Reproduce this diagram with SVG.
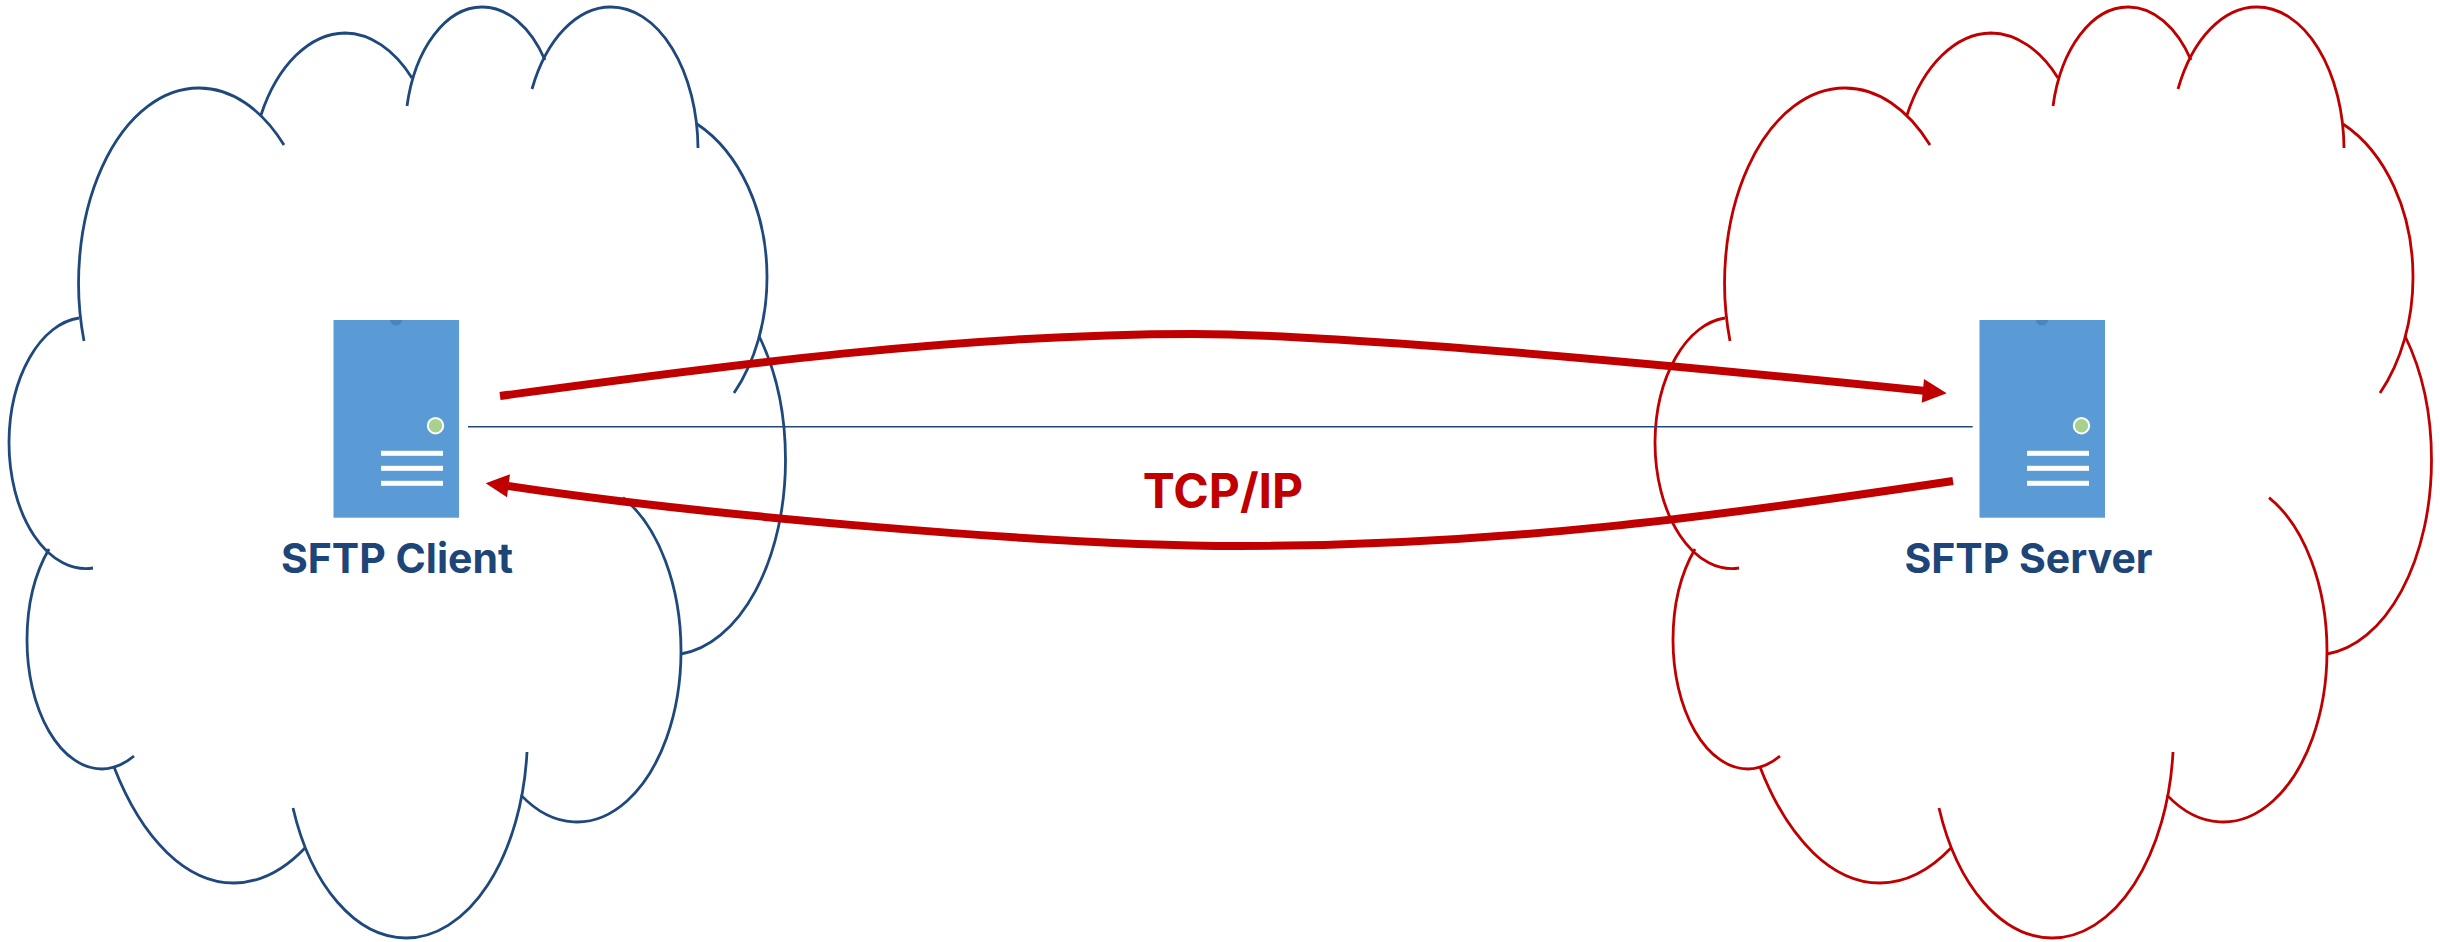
<svg xmlns="http://www.w3.org/2000/svg" width="2440" height="942" viewBox="0 0 2440 942">
<style>
.cloud{fill:none;stroke-width:2.8}
.client{stroke:#1F497D}
.server{stroke:#C00000}
.label{font-family:Inter,"Liberation Sans",sans-serif;font-weight:700;font-size:41px;fill:#1D4578;text-anchor:middle}
.proto{font-family:Inter,"Liberation Sans",sans-serif;font-weight:700;font-size:48px;fill:#C00000;text-anchor:middle}
.link{fill:none;stroke:#C00000;stroke-width:8}
.bar{fill:#fff}
</style>
<defs>
<g id="cloud-shape" class="cloud">
<path d="M84 341A120 195 0 0 1 199 88A120 195 0 0 1 284 145"/>
<path d="M261 115A96 155 0 0 1 345 33A96 155 0 0 1 412 78"/>
<path d="M407 106A77 127 0 0 1 482 7A77 127 0 0 1 545 60"/>
<path d="M532 89A87 143 0 0 1 611 7A87 143 0 0 1 698 148"/>
<path d="M697 124A124 170 0 0 1 767 277A124 170 0 0 1 734 393"/>
<path d="M759 336A116 195 0 0 1 785.500 460A116 195 0 0 1 681 654"/>
<path d="M623 497.600A104 171 0 0 1 681 651A104 171 0 0 1 521 795.100"/>
<path d="M527 752A121.500 204 0 0 1 406 938A121.500 204 0 0 1 293 808"/>
<path d="M305 848A150 290 0 0 1 234 883A150 290 0 0 1 114 767"/>
<path d="M134 756A75 129 0 0 1 102 769A75 129 0 0 1 27 640A75 129 0 0 1 49 549"/>
<path d="M93 568A77 126 0 0 1 9 442A77 126 0 0 1 79 318"/>
</g>
<g id="server-icon">
<rect x="333.500" y="320" width="125.500" height="197.700" fill="#5B9BD5"/>
<path d="M390 320a6 5.500 0 0 0 12 0z" fill="#4A86BE"/>
<circle cx="435.500" cy="425.700" r="7.700" fill="#A9D18E" stroke="#fff" stroke-width="2"/>
<rect class="bar" x="381" y="450.800" width="62" height="5"/>
<rect class="bar" x="381" y="465.800" width="62" height="5"/>
<rect class="bar" x="381" y="480.800" width="62" height="5"/>
</g>
</defs>
<g id="node-client">
<use href="#cloud-shape" class="client"/>
<use href="#server-icon"/>
<text class="label" x="397" y="572.700">SFTP Client</text>
</g>
<g id="node-server">
<use href="#cloud-shape" class="server" x="1646"/>
<use href="#server-icon" x="1646"/>
<text class="label" x="2028.500" y="572.700">SFTP Server</text>
</g>
<g id="connectors">
<path d="M468 426.700H1972.700" fill="none" stroke="#1F497D" stroke-width="1.600"/>
<path class="link" d="M500 396C700 369 950 334 1193 334C1350 334 1700 368 1926 391"/>
<path d="M1946.700 393.300L1924 379L1921.700 402.700Z" fill="#C00000"/>
<path class="link" d="M1953 481C1720 516 1500 546 1240 546C1050 546 700 515 508 486"/>
<path d="M485.700 483.300L510 474.300L507 497.300Z" fill="#C00000"/>
</g>
<text id="label-protocol" class="proto" x="1223" y="508">TCP/IP</text>
</svg>
